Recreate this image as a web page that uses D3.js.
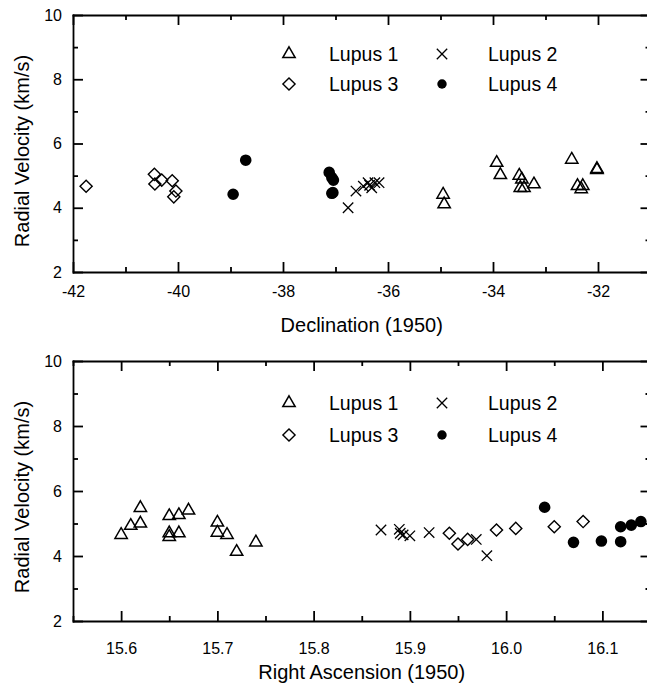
<!DOCTYPE html>
<html>
<head>
<meta charset="utf-8">
<script src="https://cdn.jsdelivr.net/npm/d3@7"></script>
<style>
    body { margin: 0; background: #fff; }
    svg { display: block; font-family: "Liberation Sans", Arial, sans-serif; }
    .axis path, .axis line { stroke: #000; stroke-width: 1.8; }
    .axis path { stroke-linecap: square; }
    .axis text { font-size: 16px; fill: #000; font-family: "Liberation Sans", Arial, sans-serif; }
</style>
</head>
<body>
<svg id="chart" width="647" height="685"></svg>
<script>

// ---- top panel: declination vs radial velocity
const lupus1_dec = [-34.95, -34.93, -33.93, -33.86, -33.50, -33.45, -33.48, -33.41, -33.22, -32.50, -32.02, -32.02, -32.39, -32.29, -32.32]
const lupus1_dec_rv = [4.41, 4.11, 5.40, 5.02, 5.00, 4.88, 4.62, 4.62, 4.73, 5.50, 5.21, 5.18, 4.68, 4.68, 4.58]
const lupus2_dec = [-36.76, -36.61, -36.47, -36.38, -36.31, -36.25, -36.17, -36.35]
const lupus2_dec_rv = [4.00, 4.52, 4.67, 4.78, 4.62, 4.78, 4.78, 4.70]
const lupus3_dec = [-41.75, -40.45, -40.44, -40.31, -40.11, -40.04, -40.08]
const lupus3_dec_rv = [4.67, 5.04, 4.74, 4.86, 4.84, 4.52, 4.34]
const lupus4_dec = [-38.71, -38.95, -37.12, -37.07, -37.04, -37.07, -37.05]
const lupus4_dec_rv = [5.48, 4.42, 5.10, 4.94, 4.86, 4.45, 4.47]

// ---- bottom panel: right ascension vs radial velocity
const lupus1_ra = [15.60, 15.61, 15.62, 15.62, 15.65, 15.65, 15.65, 15.66, 15.66, 15.67, 15.70, 15.70, 15.71, 15.72, 15.74]
const lupus1_ra_rv = [4.65, 4.93, 5.00, 5.48, 5.23, 4.70, 4.59, 5.26, 4.70, 5.40, 5.03, 4.72, 4.65, 4.13, 4.42]
const lupus2_ra = [15.870, 15.889, 15.890, 15.893, 15.900, 15.920, 15.969, 15.980]
const lupus2_ra_rv = [4.80, 4.82, 4.70, 4.65, 4.62, 4.72, 4.51, 4.01]
const lupus3_ra = [15.941, 15.950, 15.960, 15.990, 16.010, 16.050, 16.080]
const lupus3_ra_rv = [4.70, 4.37, 4.51, 4.80, 4.85, 4.90, 5.06]
const lupus4_ra = [16.040, 16.070, 16.099, 16.119, 16.119, 16.130, 16.140]
const lupus4_ra_rv = [5.50, 4.42, 4.46, 4.44, 4.90, 4.95, 5.06]

// ---- ticks and labels
const legend_labels = ["Lupus 1", "Lupus 2", "Lupus 3", "Lupus 4"]
const rv_major = [2, 4, 6, 8, 10]
const rv_minor = [3, 5, 7, 9]
const dec_major = [-42, -40, -38, -36, -34, -32]
const dec_minor = [-41, -39, -37, -35, -33, -31]
const ra_major = [15.6, 15.7, 15.8, 15.9, 16.0, 16.1]
const ra_minor = [15.55, 15.65, 15.75, 15.85, 15.95, 16.05, 16.15]


const LEFT = 73
const RIGHT = 650.5
const svg = d3.select("#chart")

// marker styles, one per group
const SHAPES = [
    { d: d3.symbol(d3.symbolTriangle, 66)(), fill: "none", stroke: "#000", sw: 1.5, rot: 0 },
    { d: d3.symbol(d3.symbolTimes, 72)(), fill: "none", stroke: "#000", sw: 1.3, rot: 0 },
    { d: d3.symbol(d3.symbolSquare, 74)(), fill: "none", stroke: "#000", sw: 1.4, rot: 45 },
    { d: d3.symbol(d3.symbolCircle, 106)(), fill: "#000", stroke: "none", sw: 0, rot: 0 }
]
const LEGEND_DOT = d3.symbol(d3.symbolCircle, 70)()

function drawPanel(cfg) {

    const x = d3.scaleLinear().domain(cfg.xDomain).range([LEFT, RIGHT])
    const y = d3.scaleLinear().domain([2, 10]).range([cfg.bottom, cfg.top])
    const g = svg.append("g")

    // bottom axis, labelled
    g.append("g").attr("class", "axis")
        .attr("transform", `translate(0, ${cfg.bottom})`)
        .call(d3.axisBottom(x).tickValues(cfg.xMajor).tickSize(-10).tickSizeOuter(0)
            .tickPadding(cfg.xPad).tickFormat(cfg.fmt))
    g.append("g").attr("class", "axis")
        .attr("transform", `translate(0, ${cfg.bottom})`)
        .call(d3.axisBottom(x).tickValues(cfg.xMinor).tickSize(-5).tickFormat(""))
        .call(a => a.select(".domain").remove())

    // top axis, ticks only
    g.append("g").attr("class", "axis")
        .attr("transform", `translate(0, ${cfg.top})`)
        .call(d3.axisTop(x).tickValues(cfg.xMajor).tickSize(-10).tickSizeOuter(0).tickFormat(""))
    g.append("g").attr("class", "axis")
        .attr("transform", `translate(0, ${cfg.top})`)
        .call(d3.axisTop(x).tickValues(cfg.xMinor).tickSize(-5).tickFormat(""))
        .call(a => a.select(".domain").remove())

    // left axis, labelled
    g.append("g").attr("class", "axis")
        .attr("transform", `translate(${LEFT}, 0)`)
        .call(d3.axisLeft(y).tickValues(rv_major).tickSize(-10).tickSizeOuter(0).tickPadding(11).tickFormat(d => String(d)))
    g.append("g").attr("class", "axis")
        .attr("transform", `translate(${LEFT}, 0)`)
        .call(d3.axisLeft(y).tickValues(rv_minor).tickSize(-5).tickFormat(""))
        .call(a => a.select(".domain").remove())

    // right axis, ticks only
    g.append("g").attr("class", "axis")
        .attr("transform", `translate(${RIGHT}, 0)`)
        .call(d3.axisRight(y).tickValues(rv_major).tickSize(-10).tickSizeOuter(0).tickFormat(""))
    g.append("g").attr("class", "axis")
        .attr("transform", `translate(${RIGHT}, 0)`)
        .call(d3.axisRight(y).tickValues(rv_minor).tickSize(-5).tickFormat(""))
        .call(a => a.select(".domain").remove())

    // axis titles
    g.append("text")
        .attr("x", (LEFT + RIGHT) / 2)
        .attr("y", cfg.titleY)
        .attr("text-anchor", "middle")
        .style("font-size", "20px")
        .text(cfg.xTitle)

    g.append("text")
        .attr("transform", `translate(22, ${cfg.yTitleMid}) rotate(-90)`)
        .attr("dy", "0.35em")
        .attr("text-anchor", "middle")
        .style("font-size", "20px")
        .text("Radial Velocity (km/s)")

    // points
    cfg.series.forEach((s, i) => {
        const shape = SHAPES[i]
        g.selectAll(".mk" + i)
            .data(d3.zip(s[0], s[1]))
            .enter()
            .append("path")
            .attr("class", "mk" + i)
            .attr("d", shape.d)
            .attr("transform", d => `translate(${x(d[0])}, ${y(d[1])}) rotate(${shape.rot})`)
            .attr("fill", shape.fill)
            .attr("stroke", shape.stroke)
            .attr("stroke-width", shape.sw)
    })

    // legend, 2 x 2
    legend_labels.forEach((label, i) => {
        const col = i % 2
        const row = Math.floor(i / 2)
        const ly = cfg.top + cfg.legendRows[row]
        const shape = SHAPES[i]
        g.append("path")
            .attr("d", i === 3 ? LEGEND_DOT : shape.d)
            .attr("transform", `translate(${[289, 442][col]}, ${ly}) rotate(${shape.rot})`)
            .attr("fill", shape.fill)
            .attr("stroke", shape.stroke)
            .attr("stroke-width", shape.sw)
        g.append("text")
            .attr("x", [329, 488][col])
            .attr("y", ly)
            .attr("dy", "0.35em")
            .style("font-size", "19.5px")
            .text(label)
    })
}

drawPanel({
    top: 15, bottom: 272,
    xDomain: [-42, -31],
    xMajor: dec_major, xMinor: dec_minor,
    fmt: d => String(d),
    xPad: 13.5, titleY: 332, yTitleMid: 151,
    xTitle: "Declination (1950)",
    legendRows: [39, 69],
    series: [[lupus1_dec, lupus1_dec_rv], [lupus2_dec, lupus2_dec_rv], [lupus3_dec, lupus3_dec_rv], [lupus4_dec, lupus4_dec_rv]]
})

drawPanel({
    top: 361, bottom: 621,
    xDomain: [15.55, 16.15],
    xMajor: ra_major, xMinor: ra_minor,
    fmt: d3.format(".1f"),
    xPad: 21.5, titleY: 679, yTitleMid: 497,
    xTitle: "Right Ascension (1950)",
    legendRows: [42, 74],
    series: [[lupus1_ra, lupus1_ra_rv], [lupus2_ra, lupus2_ra_rv], [lupus3_ra, lupus3_ra_rv], [lupus4_ra, lupus4_ra_rv]]
})

</script>
</body>
</html>
